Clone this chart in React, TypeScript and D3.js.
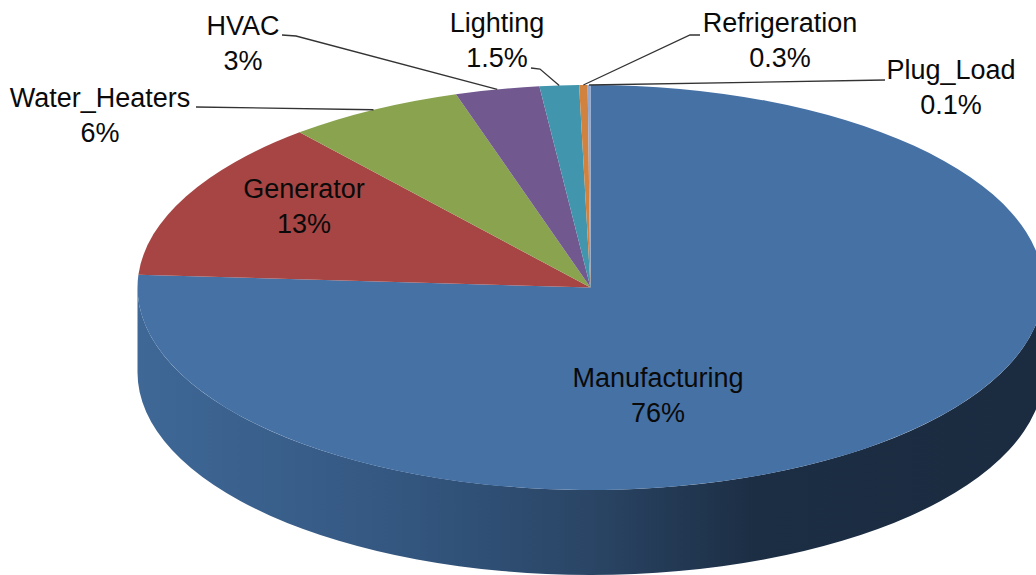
import * as d3 from "d3";

const categories = ["Manufacturing", "Generator", "Water_Heaters", "HVAC", "Lighting", "Refrigeration", "Plug_Load"];
// slice sizes as measured on the pie; the printed labels are rounded
const shares = [76, 12.9, 6.3, 3, 1.4, 0.3, 0.1];
const shareLabels = ["76%", "13%", "6%", "3%", "1.5%", "0.3%", "0.1%"];
const colors = ["#4671a5", "#a64543", "#89a34e", "#71588f", "#4196ad", "#d2823f", "#93a9cf"];

// label centre x, first baseline y
const labelX = [658, 304, 100, 243, 497, 780, 951];
const labelY = [387, 198, 107, 35, 32, 32, 79];
// elbow of each leader line and where it ends near the text (null = label sits on the slice)
const elbows = [null, null, [196, 107], [296, 36], [540, 69], [690, 35], [885, 80]];
const leaderEnds = [null, null, [196, 107], [282, 35], [531, 68], [700, 35], [885, 80]];

const width = 1036;
const height = 575;
const cx = 590.5;
const cy = 287.5;
const rx = 453;
const ry = 202.5;
const depth = 85;
const lineGap = 35;

const pie = d3.pie<number>().sort(null).startAngle(0).endAngle(2 * Math.PI);
const arcs = pie(shares);
const arc = d3.arc<d3.PieArcDatum<number>>().innerRadius(0).outerRadius(rx);

function rimPoint(angle: number) {
  return [cx + rx * Math.sin(angle), cy - ry * Math.cos(angle)];
}

const wallPath = `M${cx - rx},${cy} A${rx},${ry} 0 0 0 ${cx + rx},${cy} V${cy + depth} A${rx},${ry} 0 0 1 ${cx - rx},${cy + depth} Z`;

export default function App() {
  return (
    <svg
      width={width}
      height={height}
      style={{ position: "absolute", left: 0, top: 0, display: "block", background: "#fff" }}
      fontFamily="'Liberation Sans', Arial, sans-serif"
    >
      <defs>
        <linearGradient id="wall" gradientUnits="userSpaceOnUse" x1={cx - rx} x2={cx + rx} y1={0} y2={0}>
          <stop offset="0" stopColor="#3f6897" />
          <stop offset="0.3" stopColor="#33567f" />
          <stop offset="0.5" stopColor="#2a4565" />
          <stop offset="0.68" stopColor="#1c2e44" />
          <stop offset="1" stopColor="#1b2b40" />
        </linearGradient>
      </defs>

      <path d={wallPath} fill="url(#wall)" />

      <g transform={`translate(${cx},${cy}) scale(1,${ry / rx})`}>
        {arcs.map((d, i) => (
          <path key={categories[i]} d={arc(d) ?? ""} fill={colors[i]} />
        ))}
      </g>

      {arcs.map((d, i) => {
        const end = leaderEnds[i];
        const elbow = elbows[i];
        if (!end || !elbow) return null;
        const [ax, ay] = rimPoint((d.startAngle + d.endAngle) / 2);
        return (
          <polyline
            key={categories[i]}
            points={`${ax},${ay} ${elbow[0]},${elbow[1]} ${end[0]},${end[1]}`}
            fill="none"
            stroke="#333"
            strokeWidth={1.3}
          />
        );
      })}

      {categories.map((c, i) => (
        <text key={c} x={labelX[i]} y={labelY[i]} textAnchor="middle" fontSize={27} fill="#0a0a0a">
          <tspan x={labelX[i]}>{c}</tspan>
          <tspan x={labelX[i]} dy={lineGap}>{shareLabels[i]}</tspan>
        </text>
      ))}
    </svg>
  );
}
